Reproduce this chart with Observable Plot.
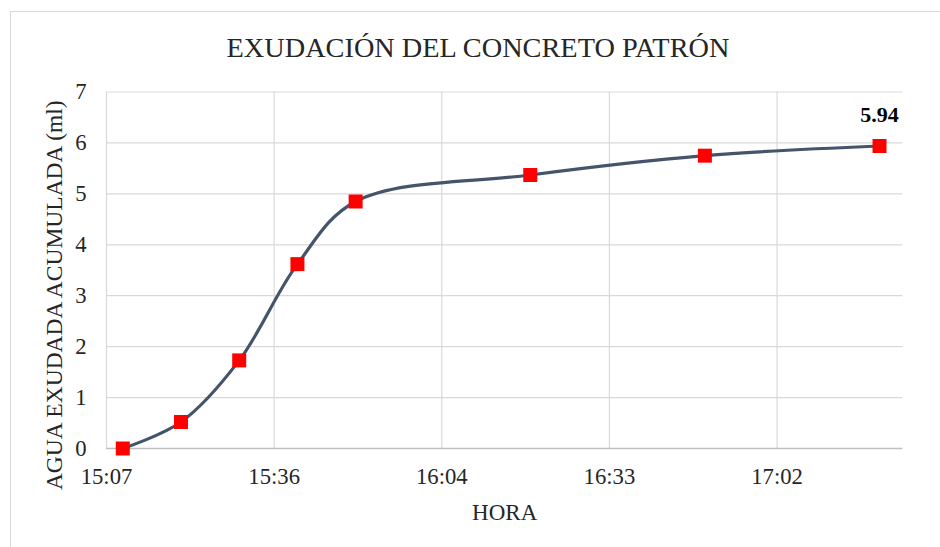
<!DOCTYPE html>
<html>
<head>
<meta charset="utf-8">
<script src="https://cdn.jsdelivr.net/npm/d3@7"></script>
<script src="https://cdn.jsdelivr.net/npm/@observablehq/plot@0.6"></script>
<style>
  html, body { margin: 0; padding: 0; background: #fff; }
  #wrap { position: relative; width: 940px; height: 547px; overflow: hidden; background: #fff; }
  #frame { position: absolute; left: 10px; top: 11px; width: 940px; height: 560px;
           border: 1.5px solid #d9d9d9; box-sizing: border-box; }
  #title { position: absolute; left: 0; width: 956px; top: 30px; text-align: center;
           font-family: "Liberation Serif", "Times New Roman", serif; font-size: 28.3px;
           color: #262626; line-height: 36px; white-space: nowrap; }
  #chart { position: absolute; left: 0; top: 0; }
</style>
</head>
<body>
<div id="wrap">
  <div id="frame"></div>
  <div id="chart"></div>
  <div id="title">EXUDACIÓN DEL CONCRETO PATRÓN</div>
</div>
<script>
// Data
const horas = ["15:10", "15:20", "15:30", "15:40", "15:50", "16:20", "16:50", "17:20"];
const agua = [0, 0.52, 1.73, 3.62, 4.85, 5.37, 5.75, 5.94];
// Axis ticks (Excel time steps of 0.02 day)
const xTickTimes = ["15:07:12", "15:36:00", "16:04:48", "16:33:36", "17:02:24"];
const xDomainTimes = ["15:07:12", "17:24:00"];
const yTicks = [0, 1, 2, 3, 4, 5, 6, 7];
const lastLabel = "5.94";
const yTitle = "AGUA EXUDADA ACUMULADA (ml)";
const xTitle = "HORA";

const toMin = s => { const p = s.split(":").map(Number); return p[0] * 60 + p[1] + (p[2] || 0) / 60; };
const fmt = m => { const h = Math.floor(m / 60); const mm = Math.floor(m - h * 60 + 1e-9); return h + ":" + String(mm).padStart(2, "0"); };

const data = horas.map((h, i) => ({ t: toMin(h), v: agua[i] }));
const xTicks = xTickTimes.map(toMin);
const last = data[data.length - 1];

const font = "'Liberation Serif', 'Times New Roman', serif";

const chart = Plot.plot({
  width: 940,
  height: 547,
  marginLeft: 106,
  marginRight: 37.7,
  marginTop: 91.5,
  marginBottom: 99,
  style: { fontFamily: font, background: "transparent", color: "#262626" },
  x: { domain: xDomainTimes.map(toMin), type: "linear" },
  y: { domain: [0, 7] },
  marks: [
    Plot.gridY(yTicks, { stroke: "#d9d9d9", strokeOpacity: 1, strokeWidth: 1.2 }),
    Plot.gridX(xTicks, { stroke: "#d9d9d9", strokeOpacity: 1, strokeWidth: 1.2 }),
    Plot.ruleY([0], { stroke: "#bfbfbf", strokeWidth: 1.5 }),
    Plot.axisY(yTicks, {
      tickSize: 0, tickPadding: 20, fontSize: 22.7, fontFamily: font, tickFormat: d => String(d),
      label: null, fill: "#262626"
    }),
    Plot.axisX(xTicks, {
      tickSize: 0, tickPadding: 19, fontSize: 22.7, fontFamily: font, tickFormat: fmt,
      label: null, fill: "#262626"
    }),
    Plot.text([yTitle], { frameAnchor: "left", text: d => d, rotate: -90, dx: -52.5, dy: 25,
      lineAnchor: "middle", textAnchor: "middle", fontSize: 23.5, fontFamily: font, fill: "#262626" }),
    Plot.text([xTitle], { frameAnchor: "bottom", text: d => d, dy: 64,
      lineAnchor: "middle", textAnchor: "middle", fontSize: 23, fontFamily: font, fill: "#262626" }),
    Plot.line(data, { x: "t", y: "v", curve: "catmull-rom", stroke: "#44546A", strokeWidth: 3.2 }),
    Plot.dot(data, { x: "t", y: "v", symbol: "square", r: 7.9, fill: "#FF0000", stroke: "none" }),
    Plot.text([last], { x: "t", y: "v", text: () => lastLabel, dy: -31, fontSize: 22,
      fontFamily: font, fontWeight: "bold", fill: "#000", lineAnchor: "middle" })
  ]
});

document.getElementById("chart").appendChild(chart);
</script>
</body>
</html>
